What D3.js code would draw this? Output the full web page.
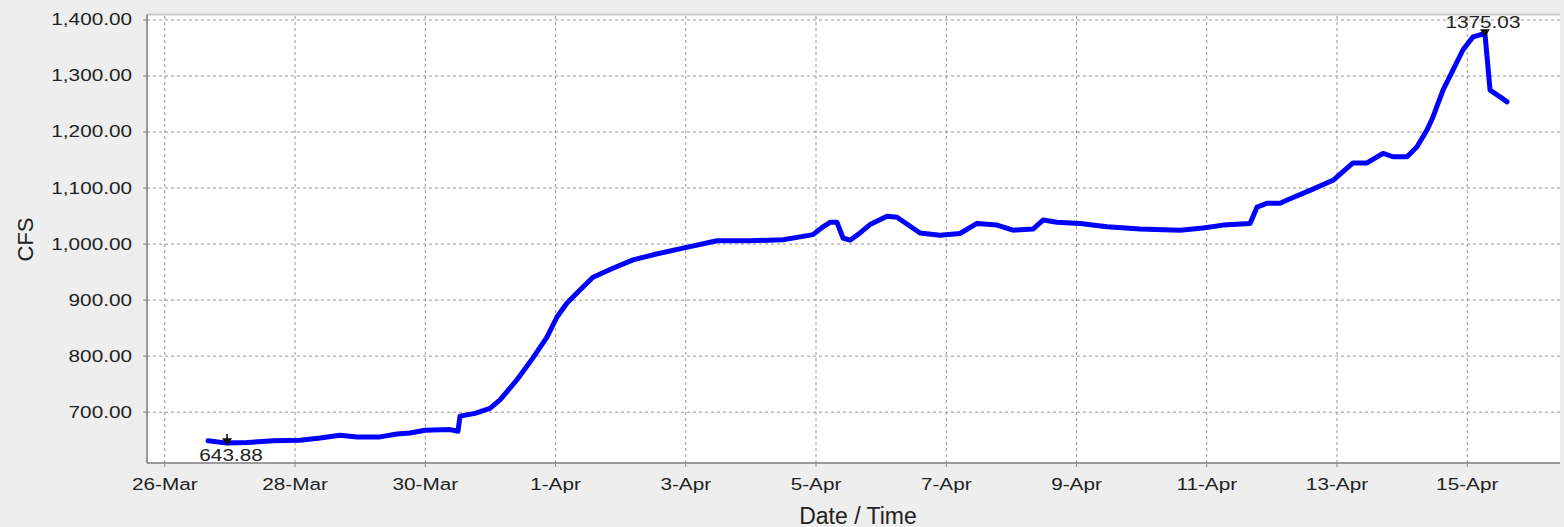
<!DOCTYPE html>
<html>
<head>
<meta charset="utf-8">
<script src="https://cdn.jsdelivr.net/npm/d3@7"></script>
<style>
  html, body { margin: 0; padding: 0; background: #eeeeee; }
  svg { display: block; font-family: "Liberation Sans", Arial, sans-serif; }
</style>
</head>
<body>
<svg id="chart" width="1564" height="527"></svg>
<script>
// ---- data ----
const times = [
  "2014-03-26T16:06","2014-03-26T23:07","2014-03-27T06:29","2014-03-27T16:03","2014-03-28T02:01",
  "2014-03-28T09:23","2014-03-28T16:45","2014-03-28T23:01","2014-03-29T07:29","2014-03-29T13:45",
  "2014-03-29T18:33","2014-03-30T00:04","2014-03-30T09:17","2014-03-30T12:14","2014-03-30T12:59",
  "2014-03-30T18:30","2014-03-31T00:01","2014-03-31T03:43","2014-03-31T09:59","2014-03-31T15:52",
  "2014-03-31T21:01","2014-04-01T00:43","2014-04-01T04:25","2014-04-01T09:11","2014-04-01T13:59",
  "2014-04-01T21:21","2014-04-02T04:44","2014-04-02T12:07","2014-04-02T23:10","2014-04-03T11:41",
  "2014-04-03T23:51","2014-04-04T12:00","2014-04-04T18:17","2014-04-04T23:04","2014-04-05T02:45",
  "2014-04-05T05:20","2014-04-05T07:55","2014-04-05T10:08","2014-04-05T12:43","2014-04-05T16:24",
  "2014-04-05T20:05","2014-04-06T02:21","2014-04-06T06:03","2014-04-06T14:31","2014-04-06T21:53",
  "2014-04-07T05:15","2014-04-07T11:31","2014-04-07T18:53","2014-04-08T00:47","2014-04-08T08:09",
  "2014-04-08T11:51","2014-04-08T17:00","2014-04-09T01:29","2014-04-09T11:27","2014-04-09T23:37",
  "2014-04-10T14:21","2014-04-10T22:49","2014-04-11T06:12","2014-04-11T16:09","2014-04-11T18:43",
  "2014-04-11T22:25","2014-04-12T03:12","2014-04-12T06:53","2014-04-12T14:16","2014-04-12T22:44",
  "2014-04-13T06:06","2014-04-13T11:15","2014-04-13T17:10","2014-04-13T20:50","2014-04-14T02:00",
  "2014-04-14T05:41","2014-04-14T09:23","2014-04-14T11:35","2014-04-14T15:16","2014-04-14T18:58",
  "2014-04-14T22:39","2014-04-15T02:20","2014-04-15T06:43","2014-04-15T08:36","2014-04-15T12:17",
  "2014-04-15T14:52"
];
const flowCfs = [
  648, 643.88, 645, 648, 649,
  653, 658, 655, 655, 660,
  662, 667, 668, 665, 692,
  697, 706, 721, 757, 796,
  833, 869, 894, 917, 940,
  956, 971, 980, 992, 1005,
  1005, 1007, 1012, 1016, 1030,
  1038, 1038, 1010, 1006, 1019,
  1034, 1049, 1047, 1019, 1015,
  1018, 1036, 1033, 1024, 1026,
  1042, 1038, 1036, 1030, 1026,
  1024, 1028, 1033, 1036, 1065,
  1072, 1072, 1080, 1095, 1113,
  1144, 1144, 1161, 1155, 1155,
  1173, 1203, 1226, 1274, 1310,
  1346, 1369, 1375.03, 1274, 1262,
  1253
];
const xTickDates = ["2014-03-26","2014-03-28","2014-03-30","2014-04-01","2014-04-03","2014-04-05",
                    "2014-04-07","2014-04-09","2014-04-11","2014-04-13","2014-04-15"];
const yTickValues = [700, 800, 900, 1000, 1100, 1200, 1300, 1400];
const xDomain = ["2014-03-25T17:37", "2014-04-16T10:23"];
const yDomain = [608.4, 1408.9];
const minLabel = "643.88";
const maxLabel = "1375.03";
const xTitle = "Date / Time";
const yTitle = "CFS";

// ---- layout ----
const plot = { left: 147, right: 1560, top: 14.5, bottom: 463 };
const SX = 1.22; // horizontal stretch of tick text

const parseT = d3.utcParse("%Y-%m-%dT%H:%M");
const parseD = d3.utcParse("%Y-%m-%d");
const data = times.map((t, i) => ({ t: parseT(t), v: flowCfs[i] }));

const x = d3.scaleUtc().domain(xDomain.map(parseT)).range([plot.left, plot.right]);
const y = d3.scaleLinear().domain(yDomain).range([plot.bottom, plot.top]);

const svg = d3.select("#chart");

svg.append("rect")
  .attr("x", plot.left).attr("y", plot.top)
  .attr("width", plot.right - plot.left).attr("height", plot.bottom - plot.top)
  .attr("fill", "#ffffff");

// top border
svg.append("line")
  .attr("x1", plot.left).attr("x2", plot.right)
  .attr("y1", plot.top).attr("y2", plot.top)
  .attr("stroke", "#c8c8c8").attr("stroke-width", 2);

// gridlines
const gx = svg.append("g")
  .attr("transform", `translate(0,${plot.bottom})`)
  .call(d3.axisBottom(x).tickValues(xTickDates.map(parseD)).tickSize(-(plot.bottom - plot.top)).tickFormat(""));
const gy = svg.append("g")
  .attr("transform", `translate(${plot.left},0)`)
  .call(d3.axisLeft(y).tickValues(yTickValues).tickSize(-(plot.right - plot.left)).tickFormat(""));
[gx, gy].forEach(g => {
  g.select(".domain").remove();
  g.selectAll("line").attr("stroke", "#959595").attr("stroke-width", 1).attr("stroke-dasharray", "3,3");
});

// series line
svg.append("path")
  .datum(data)
  .attr("fill", "none")
  .attr("stroke", "#0000ff")
  .attr("stroke-width", 5)
  .attr("stroke-linejoin", "round")
  .attr("stroke-linecap", "round")
  .attr("d", d3.line().x(d => x(d.t)).y(d => y(d.v)));

// axes
const xAxis = svg.append("g")
  .attr("transform", `translate(0,${plot.bottom})`)
  .call(d3.axisBottom(x).tickValues(xTickDates.map(parseD)).tickSize(4).tickPadding(11)
        .tickFormat(d3.utcFormat("%-d-%b")));
xAxis.select(".domain").attr("stroke", "#9a9a9a").attr("stroke-width", 2)
  .attr("d", `M${plot.left},0H${plot.right}`);
xAxis.selectAll(".tick line").attr("stroke", "#888");
xAxis.selectAll(".tick text")
  .attr("font-size", 17).attr("fill", "#222")
  .attr("font-family", "'Liberation Sans', Arial, sans-serif")
  .attr("transform", `scale(${SX},1)`);

const yAxis = svg.append("g")
  .attr("transform", `translate(${plot.left},0)`)
  .call(d3.axisLeft(y).tickValues(yTickValues).tickSize(4).tickPadding(11)
        .tickFormat(d3.format(",.2f")));
yAxis.select(".domain").attr("stroke", "#7a7a7a").attr("stroke-width", 1.5)
  .attr("d", `M0,${plot.top}V${plot.bottom}`);
yAxis.selectAll(".tick line").attr("stroke", "#888");
yAxis.selectAll(".tick text")
  .attr("font-size", 17).attr("fill", "#222")
  .attr("font-family", "'Liberation Sans', Arial, sans-serif")
  .attr("x", -15 / SX)
  .attr("transform", `scale(${SX},1)`);

// axis titles
svg.append("text")
  .attr("x", 858).attr("y", 523.5)
  .attr("text-anchor", "middle")
  .attr("font-size", 23).attr("fill", "#222")
  .text(xTitle);
svg.append("text")
  .attr("transform", "translate(33,239.5) rotate(-90)")
  .attr("text-anchor", "middle")
  .attr("font-size", 22).attr("fill", "#222")
  .text(yTitle);

// min / max annotations
const minPt = data.reduce((a, b) => (b.v < a.v ? b : a));
const maxPt = data.reduce((a, b) => (b.v > a.v ? b : a));

function arrow(pt, dir) {
  const px = x(pt.t), py = y(pt.v);
  const g = svg.append("g").attr("transform", `translate(${px},${py})`);
  g.append("path")
    .attr("d", dir > 0 ? "M0,-9V0 M-3.5,-4L0,1L3.5,-4Z" : "M-3.5,-3.5L0,2L3.5,-3.5Z")
    .attr("stroke", "#111").attr("stroke-width", 1.6).attr("fill", "#111");
}
arrow(minPt, 1);
arrow(maxPt, -1);

svg.append("text")
  .attr("transform", `translate(${x(minPt.t) + 4},461) scale(${SX},1)`)
  .attr("text-anchor", "middle")
  .attr("font-size", 17).attr("fill", "#222")
  .text(minLabel);
svg.append("text")
  .attr("transform", `translate(${x(maxPt.t) - 2},27.5) scale(${SX},1)`)
  .attr("text-anchor", "middle")
  .attr("font-size", 17).attr("fill", "#222")
  .text(maxLabel);
</script>
</body>
</html>
